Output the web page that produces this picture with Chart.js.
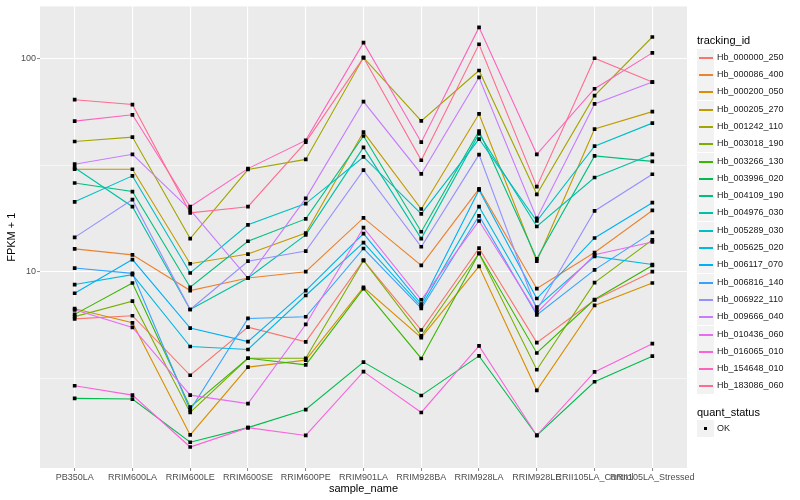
<!DOCTYPE html>
<html>
<head>
<meta charset="utf-8">
<script src="https://cdn.jsdelivr.net/npm/chart.js@4.4.1/dist/chart.umd.min.js"></script>
<style>
  body { margin: 0; background: #fff; font-family: "Liberation Sans", Arial, sans-serif; }
  #wrap { position: relative; width: 800px; height: 500px; overflow: hidden; }
  #chart { position: absolute; left: 0; top: 0; }
  .lg { position: absolute; white-space: nowrap; }
  .ttl { font-size: 11px; color: #000; line-height: 13px; }
  .key { position: absolute; width: 17px; height: 17px; background: #F2F2F2; }
  .key i { position: absolute; left: 2px; width: 14px; height: 2px; top: 8px; }
  .key b { position: absolute; left: 7px; top: 7px; width: 3px; height: 3px; background: #000; }
  .txt { font-size: 9px; color: #1A1A1A; line-height: 11px; }
</style>
</head>
<body>
<div id="wrap">
  <canvas id="chart" width="800" height="500"></canvas>
  <div id="legend"></div>
</div>
<script>
// categories on the x axis
const categories = ['PB350LA', 'RRIM600LA', 'RRIM600LE', 'RRIM600SE', 'RRIM600PE', 'RRIM901LA',
    'RRIM928BA', 'RRIM928LA', 'RRIM928LE', 'RRII105LA_Control', 'RRII105LA_Stressed'];

const trackingIds = ['Hb_000000_250', 'Hb_000086_400', 'Hb_000200_050', 'Hb_000205_270', 'Hb_001242_110',
    'Hb_003018_190', 'Hb_003266_130', 'Hb_003996_020', 'Hb_004109_190', 'Hb_004976_030',
    'Hb_005289_030', 'Hb_005625_020', 'Hb_006117_070', 'Hb_006816_140', 'Hb_006922_110',
    'Hb_009666_040', 'Hb_010436_060', 'Hb_016065_010', 'Hb_154648_010', 'Hb_183086_060'];

// FPKM + 1 per sample
const Hb_000000_250 = [6.00, 6.21, 3.26, 5.49, 4.68, 11.3, 5.32, 12.9, 4.64, 7.36, 10.0];
const Hb_000086_400 = [12.8, 12.0, 8.15, 9.34, 10.0, 17.9, 10.7, 24.5, 8.33, 12.3, 19.4];
const Hb_000200_050 = [6.70, 5.75, 1.71, 3.56, 3.84, 8.45, 4.90, 10.6, 2.77, 6.94, 8.85];
const Hb_000205_270 = [30.3, 30.3, 10.9, 12.1, 15.2, 45.3, 19.7, 55.1, 11.2, 46.8, 56.5];
const Hb_001242_110 = [40.9, 42.9, 14.3, 30.2, 33.7, 101.4, 51.1, 88.2, 23.1, 67.2, 126.7];
const Hb_003018_190 = [6.15, 7.27, 2.18, 3.92, 3.92, 11.3, 4.99, 12.2, 3.46, 8.88, 14.1];
const Hb_003266_130 = [6.30, 8.85, 2.31, 3.92, 3.65, 8.33, 3.91, 12.2, 4.15, 7.40, 10.7];
const Hb_003996_020 = [2.54, 2.52, 1.58, 1.85, 2.25, 3.76, 2.62, 4.02, 1.70, 3.04, 4.01];
const Hb_004109_190 = [26.1, 23.8, 8.45, 13.9, 17.7, 43.4, 15.4, 45.8, 11.5, 35.0, 33.0];
const Hb_004976_030 = [30.8, 20.2, 6.64, 9.34, 14.9, 38.4, 14.3, 44.5, 16.3, 27.7, 35.6];
const Hb_005289_030 = [21.3, 28.2, 9.86, 16.6, 20.9, 34.6, 18.7, 42.0, 17.3, 38.9, 49.9];
const Hb_005625_020 = [8.70, 9.68, 4.45, 4.31, 7.73, 13.7, 6.87, 20.2, 6.81, 11.8, 10.8];
const Hb_006117_070 = [7.92, 11.4, 5.43, 4.69, 8.15, 15.1, 7.04, 24.2, 7.48, 14.4, 21.1];
const Hb_006816_140 = [10.4, 9.82, 2.24, 6.03, 6.14, 12.85, 6.72, 18.3, 6.27, 10.2, 15.3];
const Hb_006922_110 = [14.5, 21.8, 6.64, 11.2, 12.5, 30.0, 13.1, 35.5, 6.59, 19.3, 28.7];
const Hb_009666_040 = [32.0, 35.6, 19.5, 9.34, 22.1, 63.0, 28.8, 81.8, 17.8, 61.4, 77.8];
const Hb_010436_060 = [6.62, 5.47, 2.63, 2.40, 5.65, 16.1, 7.38, 17.3, 6.41, 12.0, 13.8];
const Hb_016065_010 = [2.91, 2.63, 1.50, 1.85, 1.70, 3.39, 2.18, 4.48, 1.70, 3.38, 4.59];
const Hb_154648_010 = [51.0, 54.6, 20.2, 30.5, 41.4, 119.2, 40.6, 140.6, 35.6, 72.4, 106.7];
const Hb_183086_060 = [64.3, 61.0, 18.9, 20.2, 40.6, 101.4, 33.4, 117.1, 25.1, 100.7, 77.8];

const seriesValues = [Hb_000000_250, Hb_000086_400, Hb_000200_050, Hb_000205_270, Hb_001242_110,
    Hb_003018_190, Hb_003266_130, Hb_003996_020, Hb_004109_190, Hb_004976_030,
    Hb_005289_030, Hb_005625_020, Hb_006117_070, Hb_006816_140, Hb_006922_110,
    Hb_009666_040, Hb_010436_060, Hb_016065_010, Hb_154648_010, Hb_183086_060];

const yMajorTicks = [10, 100];
const yMinorTicks = [Math.sqrt(10), Math.sqrt(1000)];

// ggplot hue palette, 20 levels
const palette = ['#F8766D', '#EA8331', '#D89000', '#C09B00', '#A3A500', '#7CAE00', '#39B600', '#00BB4E',
    '#00BF7D', '#00C1A3', '#00BFC4', '#00BAE0', '#00B0F6', '#35A2FF', '#9590FF', '#C77CFF',
    '#E76BF3', '#FA62DB', '#FF62BC', '#FF6C91'];

const PANEL = { left: 40, right: 687, top: 5, bottom: 468 };

// y limits: data range in log space, expanded 5% each side like ggplot
const allVals = seriesValues.flat();
const lo = Math.log10(Math.min(...allVals));
const hi = Math.log10(Math.max(...allVals));
const ext = (hi - lo) * 0.05;

const isMajor = v => yMajorTicks.some(t => Math.abs(t - v) < 1e-6);

const panelBg = {
    id: 'panelBg',
    beforeDraw(chart) {
        const { ctx, chartArea: a } = chart;
        ctx.save();
        ctx.fillStyle = '#fff';
        ctx.fillRect(0, 0, chart.width, chart.height);
        ctx.fillStyle = '#EBEBEB';
        ctx.fillRect(a.left, a.top, a.right - a.left, a.bottom - a.top);
        ctx.restore();
    }
};

const lineSets = seriesValues.map((vals, i) => ({
    type: 'line',
    label: trackingIds[i],
    data: vals.map((v, j) => ({ x: j, y: v })),
    borderColor: palette[i],
    borderWidth: 1.1,
    pointRadius: 0,
    tension: 0,
    order: seriesValues.length - i
}));

const pointSet = {
    type: 'scatter',
    label: 'OK',
    data: seriesValues.flatMap(vals => vals.map((v, j) => ({ x: j, y: v }))),
    pointStyle: 'rect',
    pointRadius: 2.6,
    pointBorderWidth: 0,
    backgroundColor: '#000',
    showLine: false,
    order: -1
};

new Chart(document.getElementById('chart'), {
    type: 'line',
    data: { datasets: [...lineSets, pointSet] },
    options: {
        responsive: false,
        animation: false,
        devicePixelRatio: 1,
        layout: { autoPadding: false, padding: { left: 0, right: 800 - PANEL.right, top: PANEL.top, bottom: 0 } },
        plugins: { legend: { display: false }, tooltip: { enabled: false } },
        scales: {
            x: {
                type: 'linear',
                min: -0.6,
                max: categories.length - 1 + 0.6,
                afterBuildTicks: s => { s.ticks = categories.map((c, i) => ({ value: i })); },
                afterFit: s => { s.height = 500 - PANEL.bottom; },
                ticks: {
                    autoSkip: false, maxRotation: 0, minRotation: 0, padding: 1,
                    color: '#4D4D4D', font: { family: 'Liberation Sans', size: 9 },
                    callback: v => categories[v]
                },
                grid: { color: '#fff', lineWidth: 1.1, tickColor: '#333', tickLength: 3, tickWidth: 0.6 },
                border: { display: false },
                title: {
                    display: true, text: 'sample_name', color: '#000',
                    font: { family: 'Liberation Sans', size: 11 }, padding: { top: 0, bottom: 4.5 }
                }
            },
            y: {
                type: 'logarithmic',
                min: Math.pow(10, lo - ext),
                max: Math.pow(10, hi + ext),
                afterBuildTicks: s => {
                    s.ticks = [...yMinorTicks, ...yMajorTicks].sort((a, b) => a - b).map(v => ({ value: v }));
                },
                afterFit: s => { s.width = PANEL.left; },
                ticks: {
                    padding: 1, color: '#4D4D4D', font: { family: 'Liberation Sans', size: 9 },
                    callback: v => isMajor(v) ? String(Math.round(v)) : ''
                },
                grid: {
                    color: '#fff',
                    lineWidth: c => isMajor(c.tick.value) ? 1.1 : 0.55,
                    tickColor: c => isMajor(c.tick.value) ? '#333' : 'rgba(0,0,0,0)',
                    tickLength: 3, tickWidth: 0.6
                },
                border: { display: false },
                title: {
                    display: true, text: 'FPKM + 1', color: '#000',
                    font: { family: 'Liberation Sans', size: 11 }, padding: { top: 5.5, bottom: 0 }
                }
            }
        }
    },
    plugins: [panelBg]
});

// ggplot-style legends on the right
function buildLegend() {
    const el = document.getElementById('legend');
    const rowH = 17.3;
    const x0 = 697;
    let html = `<div class="lg ttl" style="left:${x0}px;top:34px">tracking_id</div>`;
    trackingIds.forEach((id, i) => {
        const top = Math.round(48.7 + i * rowH);
        html += `<div class="key" style="left:${x0}px;top:${top}px"><i style="background:${palette[i]}"></i></div>`;
        html += `<div class="lg txt" style="left:717px;top:${top + 3}px">${id}</div>`;
    });
    html += `<div class="lg ttl" style="left:${x0}px;top:406px">quant_status</div>`;
    html += `<div class="key" style="left:${x0}px;top:420px"><b></b></div>`;
    html += `<div class="lg txt" style="left:717px;top:423px">OK</div>`;
    el.innerHTML = html;
}
buildLegend();
</script>
</body>
</html>
